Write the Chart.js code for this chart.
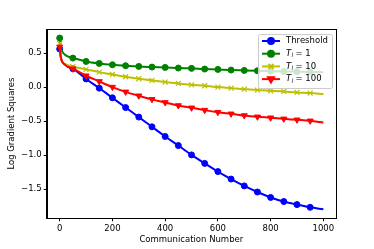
<!DOCTYPE html>
<html lang="en">
<head>
    <meta charset="UTF-8">
    <script src="https://cdn.jsdelivr.net/npm/chart.js@4.4.0/dist/chart.umd.min.js"></script>
    <title>Log Gradient Squares</title>
    <style>
        body { margin: 0; background: #fff; }
    </style>
</head>
<body>
    <canvas id="chart" width="374" height="249"></canvas>
<script>
    // communication number (x) - dense near 0 where the curves drop fast
    var commNum = [0, 5, 10, 20, 30, 50, 100, 150, 200, 250, 300, 350, 400, 450, 500,
        550, 600, 650, 700, 750, 800, 850, 900, 950, 1000];

    var threshold = [0.56, 0.42, 0.37, 0.33, 0.30, 0.27, 0.12, -0.015, -0.157, -0.30, -0.44, -0.583, -0.725,
        -0.858, -0.995, -1.12, -1.24, -1.35, -1.45, -1.54, -1.62, -1.68, -1.725, -1.765, -1.794];
    var tl1 = [0.72, 0.58, 0.52, 0.475, 0.45, 0.426, 0.377, 0.348, 0.328, 0.314, 0.304, 0.294, 0.289,
        0.28, 0.275, 0.265, 0.26, 0.25, 0.245, 0.24, 0.235, 0.23, 0.226, 0.222, 0.218];
    var tl10 = [0.64, 0.42, 0.37, 0.34, 0.32, 0.30, 0.26, 0.22, 0.186, 0.152, 0.123, 0.098, 0.074,
        0.054, 0.034, 0.02, 0.0, -0.015, -0.03, -0.044, -0.054, -0.064, -0.078, -0.088, -0.103];
    var tl100 = [0.59, 0.43, 0.37, 0.33, 0.30, 0.27, 0.167, 0.083, 0.0, -0.07, -0.127, -0.18, -0.225,
        -0.27, -0.304, -0.338, -0.368, -0.392, -0.417, -0.436, -0.45, -0.466, -0.48, -0.495, -0.52];

    var xTicks = [0, 200, 400, 600, 800, 1000];
    var yTicks = [-1.5, -1.0, -0.5, 0.0, 0.5];

    var FONT = 'DejaVu Sans';
    var FS = 8.5;

    function pts(ys) {
        return commNum.map(function (x, i) { return { x: x, y: ys[i] }; });
    }
    // markers every 50, last one at 950
    function markerRadius(r) {
        return function (ctx) {
            var x = commNum[ctx.dataIndex];
            return (x % 50 === 0 && x < 1000) ? r : 0;
        };
    }

    var series = [
        { label: 'Threshold', data: threshold, color: '#0000ff', style: 'circle', r: 3, rot: 0, order: 4 },
        { label: '1', data: tl1, color: '#008000', style: 'circle', r: 3, rot: 0, order: 3 },
        { label: '10', data: tl10, color: '#bfbf00', style: 'crossRot', r: 3.5, rot: 0, order: 2 },
        { label: '100', data: tl100, color: '#ff0000', style: 'triangle', r: 3.5, rot: 180, order: 1 }
    ];

    // legend drawn inside the axes, upper right (like matplotlib)
    var legendBox = {
        id: 'legendBox',
        afterDraw: function (chart) {
            var c = chart.ctx;
            var x0 = 258.5, y0 = 34.5, w = 74, h = 54;
            c.save();
            c.beginPath();
            c.roundRect(x0, y0, w, h, 2);
            c.fillStyle = 'rgba(255,255,255,0.8)';
            c.fill();
            c.strokeStyle = '#cccccc';
            c.lineWidth = 1;
            c.stroke();
            series.forEach(function (s, i) {
                var cy = 41 + i * 12.7;
                c.strokeStyle = s.color;
                c.lineWidth = 2;
                c.beginPath();
                c.moveTo(262, cy);
                c.lineTo(280, cy);
                c.stroke();
                c.fillStyle = s.color;
                Chart.helpers.drawPoint(c, { pointStyle: s.style, radius: s.r, rotation: s.rot, borderWidth: s.style === 'crossRot' ? 1.2 : 1 }, 271, cy);
                c.fillStyle = '#000';
                c.textBaseline = 'middle';
                if (i === 0) {
                    c.font = FS + 'px ' + FONT;
                    c.fillText(s.label, 286, cy);
                } else {
                    c.font = 'italic ' + FS + 'px ' + FONT;
                    c.fillText('T', 286, cy);
                    c.font = 'italic 6px ' + FONT;
                    c.fillText('l', 291.5, cy + 2);
                    c.font = FS + 'px ' + FONT;
                    c.fillText('= ' + s.label, 295.5, cy);
                }
            });
            c.restore();
        }
    };

    // full box around the plot
    var frame = {
        id: 'frame',
        afterDatasetsDraw: function (chart) {
            var a = chart.chartArea;
            var c = chart.ctx;
            c.save();
            c.strokeStyle = '#000';
            c.lineWidth = 1;
            c.strokeRect(Math.round(a.left) + 0.5, Math.round(a.top) + 0.5,
                Math.round(a.right - a.left), Math.round(a.bottom - a.top));
            c.restore();
        }
    };

    function fmt(v) {
        return v.toFixed(1).replace('-', '\u2212');
    }

    var ctx = document.getElementById('chart').getContext('2d');
    var myChart = new Chart(ctx, {
        type: 'line',
        data: {
            datasets: series.map(function (s) {
                return {
                    label: s.label,
                    data: pts(s.data),
                    borderColor: s.color,
                    backgroundColor: s.color,
                    borderWidth: 2,
                    cubicInterpolationMode: 'monotone',
                    pointStyle: s.style,
                    pointRotation: s.rot,
                    pointRadius: markerRadius(s.r),
                    pointBorderWidth: s.style === 'crossRot' ? 1.2 : 1,
                    order: s.order
                };
            })
        },
        options: {
            responsive: false,
            animation: false,
            devicePixelRatio: 1,
            layout: { padding: { left: 0, top: 29, right: 38, bottom: 0 } },
            plugins: {
                legend: { display: false },
                tooltip: { enabled: false }
            },
            scales: {
                x: {
                    type: 'linear',
                    min: -49.3,
                    max: 1048,
                    afterBuildTicks: function (scale) {
                        scale.ticks = xTicks.map(function (v) { return { value: v }; });
                    },
                    afterFit: function (scale) { scale.height = 30.7; },
                    grid: { drawOnChartArea: false, drawTicks: true, tickLength: 3, tickColor: '#000' },
                    border: { display: true, color: '#000' },
                    ticks: {
                        color: '#000', padding: 2, maxRotation: 0,
                        font: { family: FONT, size: FS },
                        callback: function (v) { return String(v); }
                    },
                    title: {
                        display: true, text: 'Communication Number', color: '#000',
                        font: { family: FONT, size: FS }, padding: { top: 1, bottom: 4 }
                    }
                },
                y: {
                    type: 'linear',
                    min: -1.926,
                    max: 0.853,
                    afterBuildTicks: function (scale) {
                        scale.ticks = yTicks.map(function (v) { return { value: v }; });
                    },
                    afterFit: function (scale) { scale.width = 46.7; },
                    grid: { drawOnChartArea: false, drawTicks: true, tickLength: 3, tickColor: '#000' },
                    border: { display: true, color: '#000' },
                    ticks: {
                        color: '#000', padding: 2,
                        font: { family: FONT, size: FS },
                        callback: function (v) { return fmt(v); }
                    },
                    title: {
                        display: true, text: 'Log Gradient Squares', color: '#000',
                        font: { family: FONT, size: FS }, padding: { top: 7, bottom: 0 }
                    }
                }
            }
        },
        plugins: [frame, legendBox]
    });
</script>
</body>
</html>
